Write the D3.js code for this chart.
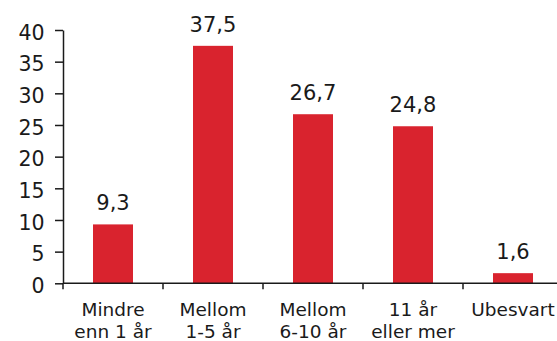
<!DOCTYPE html>
<html>
<head>
<meta charset="utf-8">
<script src="https://cdn.jsdelivr.net/npm/d3@7"></script>
<style>
  html, body { margin: 0; padding: 0; background: #fff; }
  svg { display: block; font-family: "DejaVu Sans", Verdana, sans-serif; }
</style>
</head>
<body>
<svg id="chart" width="557" height="341"></svg>
<script>
// Kategorier (to linjer per etikett) og prosentverdier
const categories = [
  ["Mindre", "enn 1 år"],
  ["Mellom", "1-5 år"],
  ["Mellom", "6-10 år"],
  ["11 år", "eller mer"],
  ["Ubesvart"]
];
const values = [9.3, 37.5, 26.7, 24.8, 1.6];
const valueLabels = ["9,3", "37,5", "26,7", "24,8", "1,6"];
const yTicks = [0, 5, 10, 15, 20, 25, 30, 35, 40];

const svg = d3.select("#chart");
const margin = { left: 63, top: 30, right: -6, bottom: 57.7 };
const W = 557, H = 341;

const x = d3.scaleBand()
  .domain(d3.range(categories.length))
  .range([margin.left, W - margin.right])
  .paddingInner(0).paddingOuter(0);

const y = d3.scaleLinear()
  .domain([0, 40])
  .range([H - margin.bottom, margin.top]);

const barW = x.bandwidth() * 0.4;

// Søyler
svg.append("g").selectAll("rect")
  .data(values)
  .join("rect")
  .attr("x", (d, i) => x(i) + (x.bandwidth() - barW) / 2)
  .attr("y", d => y(d))
  .attr("width", barW)
  .attr("height", d => y(0) - y(d))
  .attr("fill", "#d9232e");

// Verdietiketter over søylene
svg.append("g").selectAll("text")
  .data(values)
  .join("text")
  .attr("x", (d, i) => x(i) + x.bandwidth() / 2)
  .attr("y", d => y(d) - 14)
  .attr("text-anchor", "middle")
  .attr("font-size", 21)
  .attr("fill", "#1a1a1a")
  .text((d, i) => valueLabels[i]);

// Y-akse
const yAxis = d3.axisLeft(y)
  .tickValues(yTicks)
  .tickSize(8)
  .tickPadding(10.5)
  .tickSizeOuter(0)
  .tickFormat(d3.format("d"));
const gy = svg.append("g")
  .attr("transform", `translate(${margin.left},0)`)
  .call(yAxis);
gy.select(".domain").attr("stroke", "#1a1a1a").attr("stroke-width", 1.5);
gy.selectAll(".tick line").attr("stroke", "#1a1a1a").attr("stroke-width", 1.5);
gy.selectAll(".tick text")
  .attr("font-size", 20.5)
  .attr("dy", "0.44em")
  .attr("fill", "#1a1a1a")
  .attr("font-family", "DejaVu Sans, Verdana, sans-serif");

// X-akse med skillestreker mellom kategoriene
const gx = svg.append("g")
  .attr("transform", `translate(0,${y(0)})`);
gx.append("line")
  .attr("x1", margin.left).attr("x2", W - margin.right)
  .attr("stroke", "#1a1a1a").attr("stroke-width", 1.5);
gx.selectAll("line.sep")
  .data(d3.range(categories.length))
  .join("line")
  .attr("class", "sep")
  .attr("x1", i => x(i)).attr("x2", i => x(i))
  .attr("y1", 0).attr("y2", 6)
  .attr("stroke", "#1a1a1a").attr("stroke-width", 1.5);

// Kategorietiketter
const lab = gx.selectAll("text.cat")
  .data(categories)
  .join("text")
  .attr("class", "cat")
  .attr("text-anchor", "middle")
  .attr("font-size", 18.5)
  .attr("fill", "#1a1a1a")
  .attr("transform", (d, i) => `translate(${x(i) + x.bandwidth() / 2},32.4)`);
lab.selectAll("tspan")
  .data(d => d)
  .join("tspan")
  .attr("x", 0)
  .attr("dy", (d, j) => j === 0 ? 0 : 22.6)
  .text(d => d);
</script>
</body>
</html>
